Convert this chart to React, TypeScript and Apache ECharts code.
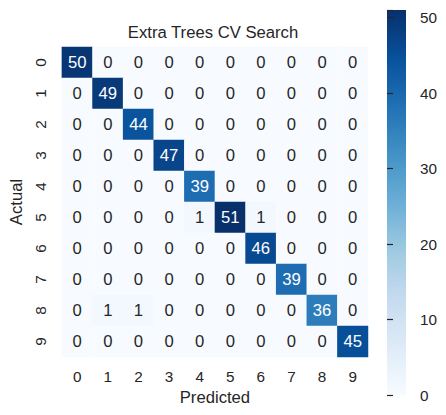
import React, { useEffect, useRef } from "react";
import * as echarts from "echarts";

const title = "Extra Trees CV Search";
const classLabels = ["0", "1", "2", "3", "4", "5", "6", "7", "8", "9"];
const row0 = [50, 0, 0, 0, 0, 0, 0, 0, 0, 0];
const row1 = [0, 49, 0, 0, 0, 0, 0, 0, 0, 0];
const row2 = [0, 0, 44, 0, 0, 0, 0, 0, 0, 0];
const row3 = [0, 0, 0, 47, 0, 0, 0, 0, 0, 0];
const row4 = [0, 0, 0, 0, 39, 0, 0, 0, 0, 0];
const row5 = [0, 0, 0, 0, 1, 51, 1, 0, 0, 0];
const row6 = [0, 0, 0, 0, 0, 0, 46, 0, 0, 0];
const row7 = [0, 0, 0, 0, 0, 0, 0, 39, 0, 0];
const row8 = [0, 1, 1, 0, 0, 0, 0, 0, 36, 0];
const row9 = [0, 0, 0, 0, 0, 0, 0, 0, 0, 45];
const matrix = [row0, row1, row2, row3, row4, row5, row6, row7, row8, row9];
const colorbarTicks = [0, 10, 20, 30, 40, 50];
const vmin = 0;
const vmax = 51;

const blues = ["#f7fbff", "#deebf7", "#c6dbef", "#9ecae1", "#6baed6", "#4292c6", "#2171b5", "#08519c", "#08306b"];
const FONT = "Liberation Sans, Arial, sans-serif";
const TXT = "#262626";
const BIG = 16.67;
const TICK = 15.3;

export default function App() {
  const ref = useRef<HTMLDivElement>(null);
  useEffect(() => {
    if (!ref.current) return;
    document.body.style.margin = "0";
    const chart = echarts.init(ref.current, null, { renderer: "svg" });
    const data: any[] = [];
    matrix.forEach((row, r) =>
      row.forEach((v, c) => {
        data.push({
          value: [c, r, v],
          label: { color: v > (vmax - vmin) / 2 ? "#ffffff" : TXT },
        });
      })
    );
    const grad = new echarts.graphic.LinearGradient(
      0, 1, 0, 0,
      blues.map((c, i) => ({ offset: i / (blues.length - 1), color: c }))
    );
    chart.setOption({
      animation: false,
      backgroundColor: "#ffffff",
      textStyle: { fontFamily: FONT },
      title: {
        text: title,
        left: 213,
        textAlign: "center",
        top: 24,
        padding: 0,
        textStyle: { fontFamily: FONT, fontSize: BIG, fontWeight: "normal", color: TXT },
      },
      grid: [
        { left: 58, top: 47, width: 310, height: 310 },
        { left: 387, top: 10, width: 19, height: 385, show: true, backgroundColor: grad, borderWidth: 0 },
      ],
      xAxis: [
        {
          type: "category",
          gridIndex: 0,
          data: classLabels,
          position: "bottom",
          axisLine: { show: false },
          axisTick: { show: false },
          splitLine: { show: false },
          axisLabel: { fontSize: TICK, color: TXT, margin: 12, fontFamily: FONT },
          name: "Predicted",
          nameLocation: "middle",
          nameGap: 31,
          nameTextStyle: { fontSize: BIG, color: TXT, fontFamily: FONT },
        },
        { type: "value", gridIndex: 1, show: false, min: 0, max: 1 },
      ],
      yAxis: [
        {
          type: "category",
          gridIndex: 0,
          data: classLabels,
          inverse: true,
          axisLine: { show: false },
          axisTick: { show: false },
          splitLine: { show: false },
          axisLabel: { fontSize: TICK, color: TXT, margin: 14, rotate: 90, fontFamily: FONT },
          name: "Actual",
          nameLocation: "middle",
          nameGap: 32,
          nameRotate: 90,
          nameTextStyle: { fontSize: BIG, color: TXT, fontFamily: FONT },
        },
        {
          type: "value",
          gridIndex: 1,
          position: "right",
          min: vmin,
          max: vmax,
          interval: 10,
          axisLine: { show: false },
          splitLine: { show: false },
          axisTick: { show: true, inside: false, length: 6, lineStyle: { color: TXT, width: 1.2 } },
          axisLabel: {
            fontSize: TICK,
            color: TXT,
            margin: 14,
            fontFamily: FONT,
            formatter: (v: number) => (colorbarTicks.includes(v) ? String(v) : ""),
          },
        },
      ],
      visualMap: {
        show: false,
        min: vmin,
        max: vmax,
        seriesIndex: 0,
        dimension: 2,
        inRange: { color: blues },
      },
      series: [
        {
          type: "heatmap",
          xAxisIndex: 0,
          yAxisIndex: 0,
          data,
          label: { show: true, fontSize: BIG, fontFamily: FONT },
          itemStyle: { borderWidth: 0 },
          emphasis: { disabled: true },
        },
      ],
    });
    return () => chart.dispose();
  }, []);
  return <div ref={ref} style={{ width: 446, height: 415 }} />;
}
